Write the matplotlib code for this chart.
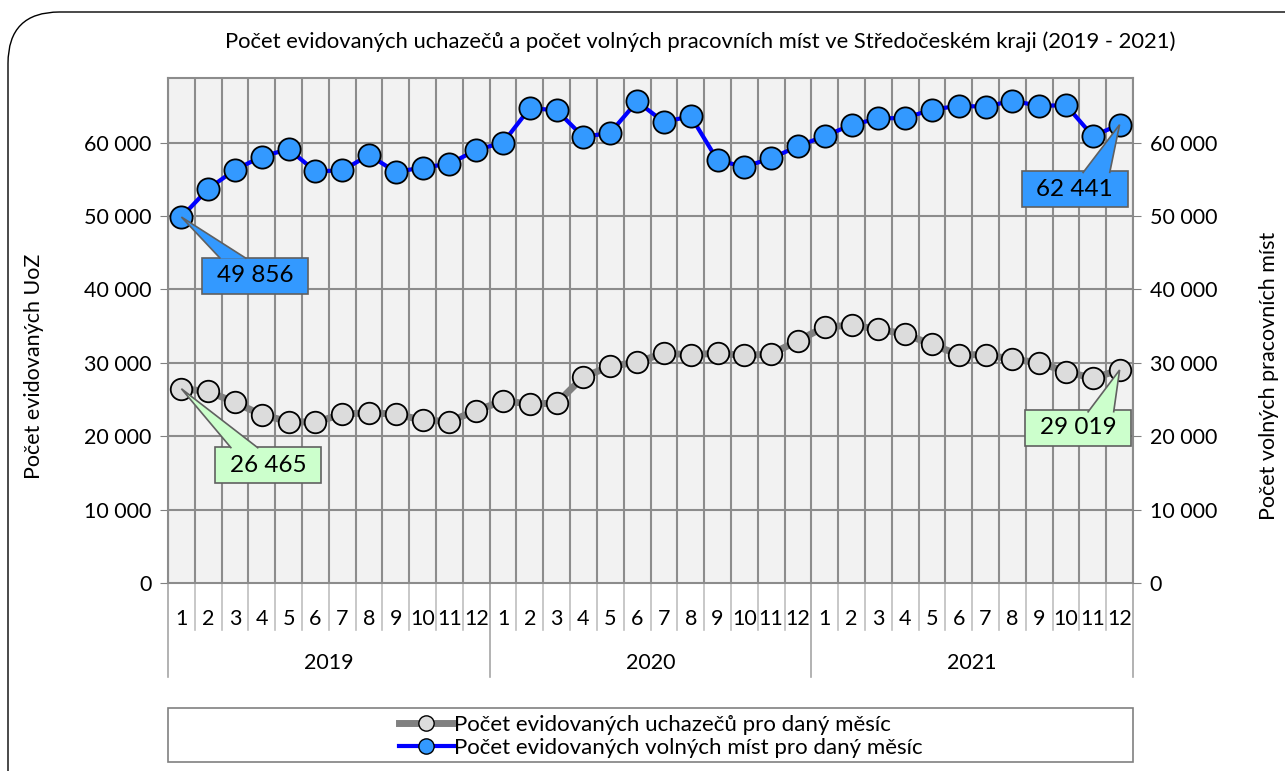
import numpy as np
import matplotlib.pyplot as plt
from matplotlib.patches import FancyBboxPatch, Rectangle, Polygon
from matplotlib.lines import Line2D
import matplotlib.transforms as mtransforms

plt.rcParams['font.family'] = ['Lato', 'DejaVu Sans']

years = ['2019', '2020', '2021']
months = [str(m) for m in range(1, 13)] * 3

# Počet evidovaných uchazečů (UoZ)
uchazeci = [26465, 26100, 24600, 22900, 22000, 21900, 23000, 23200, 23000, 22200, 22000, 23500,
            24800, 24400, 24500, 28100, 29500, 30100, 31300, 31100, 31300, 31000, 31200, 33000,
            34900, 35100, 34600, 33900, 32500, 31100, 31100, 30500, 30000, 28800, 27900, 29019]
# Počet volných pracovních míst
mista = [49856, 53700, 56300, 58100, 59100, 56100, 56200, 58300, 56000, 56600, 57100, 59000,
         60000, 64700, 64400, 60750, 61350, 65600, 62800, 63600, 57600, 56700, 57850, 59500,
         60900, 62400, 63300, 63350, 64500, 65000, 64900, 65700, 65000, 65100, 60900, 62441]

W, H = 1285, 771
FS = 15.5
fig = plt.figure(figsize=(W / 100, H / 100), dpi=100)

# outer rounded frame
frame = FancyBboxPatch((8 / W, -0.2), 1.2, 1.2 - 12 / H, boxstyle="round,pad=0,rounding_size=0.04",
                       transform=fig.transFigure, fc='white', ec='black', lw=1.0, clip_on=False,
                       mutation_aspect=W / H, zorder=-5)
fig.patches.append(frame)

ax = fig.add_axes([168 / W, 1 - 583 / H, 965 / W, 505 / H])
ax.set_facecolor('#f2f2f2')
x = np.arange(len(months))
ymax = 68800

ax.plot(x, uchazeci, color='#808080', lw=5, marker='o', ms=15.5, mfc='#dcdcdc', mec='black',
        mew=1.3, zorder=3)
ax.plot(x, mista, color='#0000ff', lw=3, marker='o', ms=16, mfc='#3399ff', mec='black',
        mew=1.3, zorder=4)

ax.set_xlim(-0.5, len(months) - 0.5)
ax.set_ylim(0, ymax)
yt = np.arange(0, 60001, 10000)
ylabels = [f'{v:,}'.replace(',', ' ') for v in yt]
ax.set_yticks(yt)
ax.set_yticklabels(ylabels, fontsize=FS)
ax.tick_params(axis='y', length=6, color='#808080', pad=6)

# grid
for b in np.arange(-0.5, len(months), 1.0):
    ax.axvline(b, color='#8c8c8c', lw=1.5, zorder=1)
for v in yt[1:]:
    ax.axhline(v, color='#8c8c8c', lw=1.5, zorder=1)
for s in ax.spines.values():
    s.set_color('#8c8c8c')
    s.set_linewidth(1.5)

# category axis (months + years)
ax.set_xticks(x)
ax.set_xticklabels(months, fontsize=FS)
ax.tick_params(axis='x', length=0, pad=19)
trans = mtransforms.blended_transform_factory(ax.transData, ax.transAxes)
for b in np.arange(-0.5, len(months), 1.0):
    if b % 12 == 11.5 or b == -0.5:
        ax.plot([b, b], [0, -0.186], transform=trans, color='#a6a6a6', lw=1.2, clip_on=False)
    else:
        ax.plot([b, b], [0, -0.093], transform=trans, color='#bfbfbf', lw=1.2, clip_on=False)
for i, yr in enumerate(years):
    ax.text(i * 12 + 5.5, -0.158, yr, transform=trans, ha='center', va='center', fontsize=FS)

ax.set_ylabel('Počet evidovaných UoZ', fontsize=FS)
ax.yaxis.set_label_coords(-0.128, 0.43)

ax2 = ax.twinx()
ax2.set_ylim(0, ymax)
ax2.set_yticks(yt)
ax2.set_yticklabels(ylabels, fontsize=FS)
ax2.tick_params(axis='y', length=6, color='#808080', pad=6)
for s in ax2.spines.values():
    s.set_visible(False)
ax2.set_ylabel('Počet volných pracovních míst', fontsize=FS)
ax2.yaxis.set_label_coords(1.131, 0.41)

# callouts (offsets in pixels from the data point: box centre, pointer base)
def callout(xi, yi, fc, box, base):
    px, py = ax.transData.transform((xi, yi))
    bw, bh = 106, 36
    cx, cy = px + box[0], py + box[1]
    ax2.add_patch(Rectangle((cx - bw / 2, cy - bh / 2), bw, bh, transform=None, fc=fc,
                            ec='#606060', lw=1.2, zorder=6, clip_on=False))
    ax2.add_patch(Polygon([(px + base[0], py + base[2] - 1.5), (px, py),
                           (px + base[1], py + base[2] - 1.5)], closed=False, transform=None,
                          fc=fc, ec='#606060', lw=1.2, zorder=7, clip_on=False))
    ax2.text(cx, cy, f'{yi:,}'.replace(',', ' '), transform=None, ha='center', va='center',
             fontsize=17.5, zorder=8)

callout(0, mista[0], '#3399ff', (74, -58.5), (39, 65, -40))
callout(len(mista) - 1, mista[-1], '#3399ff', (-45, -64.5), (-37, -10, -47))
callout(0, uchazeci[0], '#ccffcc', (87, -76.5), (50, 77, -58))
callout(len(uchazeci) - 1, uchazeci[-1], '#ccffcc', (-41.5, -58), (-32, -6, -41))

fig.text(700 / W, 1 - 42 / H,
         'Počet evidovaných uchazečů a počet volných pracovních míst ve Středočeském kraji (2019 - 2021)',
         ha='center', va='center', fontsize=15.8)

# legend
fig.patches.append(Rectangle((168 / W, 1 - 762 / H), 965 / W, 54 / H, transform=fig.transFigure,
                             fc='white', ec='#808080', lw=1.2))
handles = [Line2D([], [], color='#808080', lw=5, marker='o', ms=11, mfc='#dcdcdc', mec='black'),
           Line2D([], [], color='#0000ff', lw=3, marker='o', ms=11, mfc='#3399ff', mec='black')]
fig.legend(handles, ['Počet evidovaných uchazečů pro daný měsíc',
                     'Počet evidovaných volných míst pro daný měsíc'],
           loc='upper left', bbox_to_anchor=(383 / W, 1 - 699 / H), frameon=False, fontsize=16,
           handlelength=2.5, handletextpad=0.0, labelspacing=0.15, borderpad=0.2)

fig.savefig('out.png', dpi=100)
